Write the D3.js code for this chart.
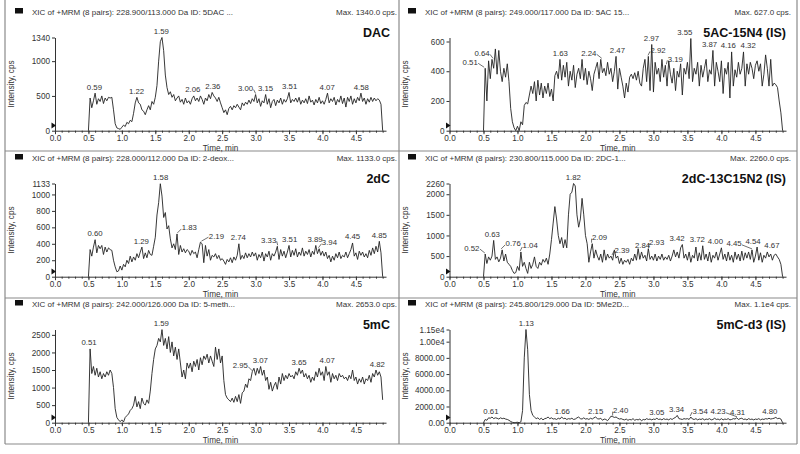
<!DOCTYPE html>
<html>
<head>
<meta charset="utf-8">
<title>XIC chromatograms</title>
<script src="https://d3js.org/d3.v7.min.js"></script>
<style>
body { margin: 0; background: #fff; }
svg { display: block; font-family: "Liberation Sans", Arial, sans-serif; }
</style>
</head>
<body>
<script>
// every trace is sampled from 0.50 to 4.90 min, one point every 0.025 min
const timeStart = 0.5;
const timeStep = 0.025;

const dacValues = [
  0,470,330,430,540,380,460,420,500,390,470,430,480,470,480,300,100,40,30,20,
  50,80,60,120,100,150,130,250,400,480,400,380,300,280,230,300,360,300,420,380,
  480,650,1000,1280,1340,1150,800,620,520,560,480,520,430,470,500,410,450,380,470,400,
  430,380,460,500,430,470,420,500,450,380,470,430,520,460,550,500,470,420,480,400,
  330,260,300,230,320,350,300,360,330,380,340,300,400,360,410,380,440,390,460,420,
  520,400,460,350,430,400,520,380,460,330,420,450,360,440,400,470,380,450,410,460,
  550,400,450,420,470,410,480,380,440,400,460,390,500,410,440,370,450,400,480,390,
  430,380,450,540,400,460,420,480,370,450,410,500,390,470,340,480,420,500,380,460,
  400,480,430,540,420,470,380,460,410,480,420,470,430,460,440,380,0
];
const ac15Values = [
  0,420,200,470,350,480,420,550,380,540,400,330,420,360,450,330,150,60,20,0,
  30,0,60,40,170,190,180,240,300,250,330,200,340,240,320,220,300,250,320,230,
  280,200,370,400,350,480,340,440,360,460,300,400,340,440,290,380,420,350,480,340,
  420,310,400,350,270,380,420,460,350,480,390,420,370,460,380,420,330,400,500,280,
  420,360,300,220,320,260,360,380,350,390,340,400,320,300,420,480,330,500,270,580,
  260,460,380,420,330,480,360,440,300,470,380,320,420,270,400,360,450,240,420,380,
  460,350,620,330,420,380,460,300,440,360,420,480,330,410,380,540,300,460,400,330,
  470,250,420,380,460,220,530,300,410,360,460,380,420,530,300,450,380,460,420,350,
  440,470,400,450,300,380,510,420,300,480,300,320,310,290,200,120,0
];
const dcValues = [
  0,330,250,360,450,290,380,340,380,270,360,300,350,330,320,200,120,60,70,130,
  80,150,120,200,160,250,180,240,200,280,230,300,360,220,290,230,320,270,260,370,
  480,750,900,1130,980,720,780,580,620,460,350,400,330,520,270,380,300,340,290,330,
  310,260,320,280,300,230,330,420,400,170,380,250,330,200,260,240,280,220,260,200,
  220,190,150,210,180,230,170,240,200,260,400,210,260,220,290,230,280,240,300,250,
  290,200,270,230,300,190,280,240,310,200,280,250,300,370,210,330,250,310,230,300,
  380,240,320,260,340,240,300,260,350,250,310,270,330,240,310,270,380,280,340,260,
  310,250,300,220,260,180,250,200,280,230,300,220,260,240,300,230,280,330,410,250,
  290,210,310,260,300,240,280,230,320,260,350,280,370,300,430,290,0
];
const dcIsValues = [
  0,550,320,480,400,500,880,420,480,360,450,650,380,550,350,300,250,150,80,100,
  250,150,600,250,350,200,80,350,200,300,480,250,200,350,280,420,350,450,300,550,
  900,1300,1700,1400,1000,800,950,700,900,700,1500,2000,2050,2260,2200,1500,1200,1400,1900,1500,
  1000,800,350,600,800,450,650,500,400,550,350,650,400,550,450,500,400,650,450,500,
  320,450,300,400,350,420,300,450,380,550,400,680,420,600,450,520,380,680,420,500,
  400,550,380,500,420,550,400,480,420,520,380,500,650,480,600,450,700,780,450,550,
  400,600,350,520,450,720,380,580,400,750,420,550,380,600,350,520,450,600,400,550,
  700,420,550,380,600,400,520,350,600,420,550,380,620,400,580,450,600,420,650,350,
  500,720,400,580,350,520,450,600,480,550,400,520,550,480,420,300,0
];
const mcValues = [
  0,2100,1400,1600,1350,1550,1300,1450,1250,1400,1300,1450,1350,1500,1400,1000,400,150,80,30,
  80,20,150,200,250,350,400,500,750,450,600,400,700,550,500,650,550,900,1400,1800,
  2100,2200,2400,2300,2650,2200,2400,2100,2450,2000,2300,1900,2150,1800,2100,1700,1300,1500,1250,1700,
  1550,1700,1450,1750,1600,1800,1500,1850,1650,1900,1800,1950,1700,1900,1750,1600,2150,1800,2100,1700,
  1900,1200,800,700,650,600,700,580,750,600,800,550,850,900,1100,1000,1250,1200,1450,1550,
  1350,1550,1400,1600,1350,1500,1200,1300,950,1150,900,1050,1150,950,1300,1100,1400,1200,1350,1250,
  1400,1300,1350,1250,1450,1350,1550,1400,1500,1300,1400,1250,1350,1150,1300,1200,1450,1300,1550,1350,
  1450,1200,1600,1350,1450,1150,1400,1250,1350,1200,1400,1300,1350,1250,1300,1200,1350,1250,1500,1200,
  1300,1100,1250,1150,1300,1100,1250,1200,1350,1150,1400,1300,1500,1350,1450,1300,650
];
const mcD3Values = [
  0,400,300,600,550,700,500,600,550,450,600,500,550,450,400,300,150,50,0,30,
  50,0,100,1500,8000,11500,9000,3500,1500,900,700,500,600,400,550,350,500,550,700,500,
  600,450,500,400,550,450,700,500,550,400,500,450,550,400,450,600,700,500,450,600,
  450,500,400,550,450,600,700,500,450,550,300,450,400,250,500,800,750,650,700,550,
  450,500,400,350,450,300,400,350,500,300,400,350,450,250,400,350,500,400,450,350,
  450,400,550,400,450,350,500,400,450,350,500,400,550,650,900,500,450,400,500,450,
  500,400,700,450,400,500,350,450,400,500,350,450,400,500,350,400,550,400,450,350,
  500,350,450,400,500,350,400,500,450,600,400,500,550,400,450,350,500,400,450,350,
  450,400,500,350,450,400,500,450,550,450,500,550,650,500,550,450,0
];

// peak apex labels (retention time, min)
const dacPeaks = ['0.59','1.22','1.59','2.06','2.36','3.00','3.15','3.51','4.07','4.58'];
const ac15Peaks = ['0.51','0.64','1.63','2.24','2.47','2.97','2.92','3.19','3.55','3.87','4.16','4.32'];
const dcPeaks = ['0.60','1.29','1.58','1.83','2.19','2.74','3.33','3.51','3.89','3.94','4.45','4.85'];
const dcIsPeaks = ['0.52','0.63','0.76','1.04','1.82','2.09','2.39','2.84','2.93','3.42','3.72','4.00','4.45','4.54','4.67'];
const mcPeaks = ['0.51','1.59','2.95','3.07','3.65','4.07','4.82'];
const mcD3Peaks = ['0.61','1.13','1.66','2.15','2.40','3.05','3.34','3.54','4.23','4.31','4.80'];

// y axis ticks
const dacTicks = [0, 500, 1000, 1340];
const ac15Ticks = [0, 200, 400, 600];
const dcTicks = [0, 200, 400, 600, 800, 1000, 1133];
const dcIsTicks = [0, 500, 1000, 1500, 2000, 2260];
const mcTicks = [0, 500, 1000, 1500, 2000, 2500];
const mcD3Ticks = [0, 2000, 4000, 6000, 8000, 10000, 11500];
const mcD3TickLabels = ['0.00', '2000.00', '4000.00', '6000.00', '8000.00', '1.00e4', '1.15e4'];
const timeTicks = [0, 0.5, 1, 1.5, 2, 2.5, 3, 3.5, 4, 4.5];

const panels = [
  { title: 'DAC', header: 'XIC of +MRM (8 pairs): 228.900/113.000 Da ID: 5DAC ...', maxText: 'Max. 1340.0 cps.',
    yMax: 1340, ticks: dacTicks, values: dacValues, peaks: dacPeaks, row: 0, col: 0 },
  { title: '5AC-15N4 (IS)', header: 'XIC of +MRM (8 pairs): 249.000/117.000 Da ID: 5AC 15...', maxText: 'Max. 627.0 cps.',
    yMax: 627, ticks: ac15Ticks, values: ac15Values, peaks: ac15Peaks, row: 0, col: 1 },
  { title: '2dC', header: 'XIC of +MRM (8 pairs): 228.000/112.000 Da ID: 2-deox...', maxText: 'Max. 1133.0 cps.',
    yMax: 1133, ticks: dcTicks, values: dcValues, peaks: dcPeaks, row: 1, col: 0 },
  { title: '2dC-13C15N2 (IS)', header: 'XIC of +MRM (8 pairs): 230.800/115.000 Da ID: 2DC-1...', maxText: 'Max. 2260.0 cps.',
    yMax: 2260, ticks: dcIsTicks, values: dcIsValues, peaks: dcIsPeaks, row: 1, col: 1 },
  { title: '5mC', header: 'XIC of +MRM (8 pairs): 242.000/126.000 Da ID: 5-meth...', maxText: 'Max. 2653.0 cps.',
    yMax: 2653, ticks: mcTicks, values: mcValues, peaks: mcPeaks, row: 2, col: 0 },
  { title: '5mC-d3 (IS)', header: 'XIC of +MRM (8 pairs): 245.800/129.000 Da ID: 5Me2D...', maxText: 'Max. 1.1e4 cps.',
    yMax: 11500, ticks: mcD3Ticks, tickLabels: mcD3TickLabels, values: mcD3Values, peaks: mcD3Peaks, row: 2, col: 1 }
];

// labels that the instrument software pushed sideways (px), drawn with a leader line
const labelShift = {
  'DAC': { '3.00': -10 },
  '5AC-15N4 (IS)': { '0.51': -14, '0.64': -11, '2.24': -13, '2.92': 10, '3.19': 9, '3.55': -6, '3.87': -3, '4.16': -4, '4.32': 5 },
  '2dC': { '1.83': 12, '2.19': 15, '3.33': -9, '3.94': 11 },
  '2dC-13C15N2 (IS)': { '0.52': -13, '0.76': 12, '1.04': 10, '2.09': 8, '2.39': 10, '2.93': 8, '3.42': -5, '3.72': -5, '4.00': -6, '4.45': -18, '4.54': -5, '4.67': 5 },
  '5mC': { '2.95': -12 },
  '5mC-d3 (IS)': { '2.40': 8, '3.54': 10, '4.23': -19, '4.31': -5, '4.80': -6 }
};

const rowTop = [0, 146, 292];
const colLayout = [
  { square: 15, headerX: 32, maxX: 397, titleX: 390, yTitleX: 14, xRange: [55, 386] },
  { square: 408, headerX: 425, maxX: 791, titleX: 786, yTitleX: 407.5, xRange: [449.5, 786] }
];
const ink = '#333';

const svg = d3.select('body').append('svg')
  .attr('width', 800)
  .attr('height', 454);

// frames
const frame = svg.append('g').attr('stroke', '#8a8a8a').attr('stroke-width', 1.2);
[[5, 0, 5, 444], [399, 0, 399, 444], [797, 0, 797, 444],
 [5, 151, 797, 151], [5, 298, 797, 298], [5, 444, 797, 444]].forEach(d => {
  frame.append('line').attr('x1', d[0]).attr('y1', d[1]).attr('x2', d[2]).attr('y2', d[3]);
});

panels.forEach(p => {
  const top = rowTop[p.row];
  const L = colLayout[p.col];
  const g = svg.append('g');

  const x = d3.scaleLinear().domain([0, 4.95]).range(L.xRange);
  const y = d3.scaleLinear().domain([0, p.yMax]).range([top + 130.7, top + 37.5]);

  // header
  g.append('rect').attr('x', L.square).attr('y', top + 8).attr('width', 8).attr('height', 5.5).attr('fill', '#111');
  g.append('text').attr('x', L.headerX).attr('y', top + 15)
    .attr('font-size', 8).attr('fill', ink).text(p.header);
  g.append('text').attr('x', L.maxX).attr('y', top + 15).attr('text-anchor', 'end')
    .attr('font-size', 8).attr('fill', ink).text(p.maxText);
  g.append('text').attr('x', L.titleX).attr('y', top + 37).attr('text-anchor', 'end')
    .attr('font-size', 12.5).attr('font-weight', 'bold').attr('fill', '#111').text(p.title);

  // axes
  const minor = g.append('g').attr('transform', `translate(0,${top + 130.7})`)
    .call(d3.axisBottom(x).tickValues(d3.range(0, 4.95, 0.1)).tickSize(2).tickFormat(''));
  minor.select('.domain').remove();
  minor.selectAll('line').attr('stroke', ink);

  const xAxis = g.append('g').attr('transform', `translate(0,${top + 130.7})`)
    .call(d3.axisBottom(x).tickValues(timeTicks).tickSize(3.5).tickSizeOuter(0).tickPadding(1)
      .tickFormat(d3.format('.1f')));
  const yAxis = g.append('g').attr('transform', `translate(${L.xRange[0]},0)`)
    .call(d3.axisLeft(y).tickValues(p.ticks).tickSize(3).tickSizeOuter(0).tickPadding(2)
      .tickFormat((d, i) => p.tickLabels ? p.tickLabels[i] : d));
  [xAxis, yAxis].forEach(a => {
    a.selectAll('path, line').attr('stroke', ink);
    a.selectAll('text').attr('font-size', 8.2).attr('fill', ink).attr('font-family', null);
  });

  g.append('text').attr('x', (L.xRange[0] + L.xRange[1]) / 2).attr('y', top + 150.5)
    .attr('text-anchor', 'middle').attr('font-size', 8.2).attr('fill', ink).text('Time, min');
  g.append('text').attr('transform', `translate(${L.yTitleX},${top + 84}) rotate(-90)`)
    .attr('text-anchor', 'middle').attr('font-size', 8.2).attr('fill', ink).text('Intensity, cps');

  // start marker
  const mx = L.xRange[0];
  g.append('path')
    .attr('d', `M${mx - 3.5},${top + 122.5}L${mx + 1},${top + 125.5}L${mx - 3.5},${top + 128.5}Z`)
    .attr('fill', '#111');

  // trace
  const pts = p.values.map((v, i) => [timeStart + i * timeStep, v]);
  g.append('path').datum(pts)
    .attr('fill', 'none').attr('stroke', '#222').attr('stroke-width', 0.9)
    .attr('d', d3.line().x(d => x(d[0])).y(d => y(d[1])));

  // peak labels
  const shifts = labelShift[p.title] || {};
  p.peaks.forEach(lab => {
    const t = +lab;
    const near = pts.filter(d => Math.abs(d[0] - t) < 0.021);
    const v = d3.max(near, d => d[1]);
    const px = x(t), py = y(v);
    const dx = shifts[lab] || 0;
    g.append('text').attr('x', px + dx).attr('y', py - 3.5).attr('text-anchor', 'middle')
      .attr('font-size', 7.8).attr('fill', ink).text(lab);
    if (Math.abs(dx) > 6) {
      const sx = px + dx + (dx < 0 ? 8 : -8);
      g.append('line').attr('x1', sx).attr('y1', py - 5).attr('x2', px).attr('y2', py - 1)
        .attr('stroke', ink).attr('stroke-width', 0.7);
    }
  });
});
</script>
</body>
</html>
